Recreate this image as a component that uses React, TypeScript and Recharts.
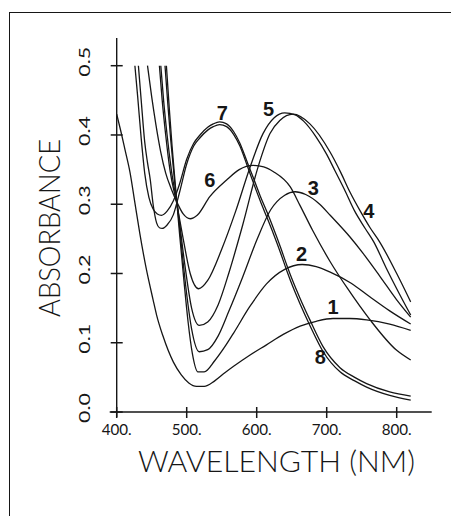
import React from 'react';
import { LineChart, Line, XAxis, YAxis, ReferenceLine, ReferenceDot } from 'recharts';

// ---- tick values / labels ----
const xTicks = [400, 500, 600, 700, 800];
const xTickLabels = ['400.', '500.', '600.', '700.', '800.'];
const yTicks = [0, 0.1, 0.2, 0.3, 0.4, 0.5];
const yTickLabels = ['0.0', '0.1', '0.2', '0.3', '0.4', '0.5'];

// ---- spectra (wavelength nm / absorbance) ----
const curve1Wl = [400, 406, 412, 419, 426, 433, 442, 452, 457, 466, 481, 492, 503, 514, 525, 540, 555, 567, 590, 614, 638, 662, 685, 709, 733, 757, 790, 820];
const curve1Abs = [0.43, 0.405, 0.378, 0.346, 0.302, 0.258, 0.208, 0.162, 0.14, 0.11, 0.072, 0.054, 0.042, 0.037, 0.037, 0.045, 0.057, 0.066, 0.082, 0.097, 0.112, 0.124, 0.131, 0.135, 0.135, 0.133, 0.127, 0.118];

const curve2Wl = [471, 475, 479, 484, 490, 496, 502, 508, 516, 525, 540, 555, 567, 590, 614, 640, 665, 685, 705, 735, 762, 790, 820];
const curve2Abs = [0.5, 0.44, 0.385, 0.325, 0.255, 0.19, 0.13, 0.085, 0.058, 0.058, 0.074, 0.095, 0.114, 0.152, 0.185, 0.206, 0.213, 0.21, 0.202, 0.186, 0.166, 0.146, 0.127];

const curve3Wl = [469, 473, 477, 483, 488, 494, 500, 507, 518, 530, 545, 560, 580, 600, 620, 640, 655, 670, 690, 705, 733, 752, 776, 800, 820];
const curve3Abs = [0.5, 0.445, 0.395, 0.33, 0.285, 0.225, 0.17, 0.12, 0.087, 0.09, 0.11, 0.145, 0.195, 0.248, 0.292, 0.313, 0.318, 0.314, 0.3, 0.284, 0.253, 0.229, 0.196, 0.162, 0.137];

const curve4Wl = [463, 467, 472, 478, 487, 497, 507, 518, 530, 545, 560, 580, 602, 619, 633, 652, 676, 705, 720, 733, 748, 762, 776, 800, 820];
const curve4Abs = [0.5, 0.45, 0.4, 0.35, 0.295, 0.215, 0.15, 0.125, 0.13, 0.155, 0.2, 0.27, 0.354, 0.402, 0.421, 0.43, 0.416, 0.375, 0.346, 0.318, 0.29, 0.266, 0.245, 0.2, 0.159];

const curve5Wl = [461, 465, 470, 476, 486, 495, 505, 517, 530, 550, 570, 590, 609, 625, 640, 655, 667, 685, 700, 712, 725, 740, 755, 767, 785, 800, 820];
const curve5Abs = [0.5, 0.45, 0.4, 0.35, 0.3, 0.25, 0.2, 0.178, 0.19, 0.235, 0.29, 0.352, 0.402, 0.425, 0.432, 0.429, 0.42, 0.397, 0.372, 0.348, 0.322, 0.29, 0.265, 0.246, 0.208, 0.178, 0.14];

const curve6Wl = [444, 450, 456, 463, 470, 478, 486, 495, 505, 515, 533, 557, 575, 595, 610, 624, 648, 662, 680, 705, 730, 762, 800, 820];
const curve6Abs = [0.5, 0.455, 0.415, 0.375, 0.345, 0.322, 0.303, 0.286, 0.279, 0.284, 0.311, 0.335, 0.35, 0.356, 0.354, 0.347, 0.325, 0.298, 0.262, 0.217, 0.178, 0.133, 0.089, 0.075];

const curve7Wl = [426, 430, 435, 440, 446, 452, 458, 464, 472, 481, 490, 500, 510, 519, 530, 538, 547, 557, 567, 576, 586, 596, 605, 615, 624, 634, 643, 652, 662, 676, 695, 719, 740, 757, 790, 820];
const curve7Abs = [0.5, 0.455, 0.395, 0.345, 0.31, 0.293, 0.286, 0.284, 0.29, 0.305, 0.33, 0.365, 0.388, 0.4, 0.411, 0.416, 0.419, 0.416, 0.405, 0.388, 0.362, 0.336, 0.312, 0.288, 0.265, 0.238, 0.212, 0.188, 0.164, 0.133, 0.094, 0.064, 0.05, 0.041, 0.029, 0.023];

const curve8Wl = [431, 435, 440, 444, 448, 452, 457, 461, 465, 472, 481, 490, 500, 510, 519, 530, 538, 547, 557, 567, 576, 586, 596, 605, 615, 624, 634, 643, 652, 662, 676, 695, 719, 740, 757, 790, 820];
const curve8Abs = [0.5, 0.45, 0.39, 0.36, 0.335, 0.3, 0.273, 0.266, 0.265, 0.27, 0.285, 0.318, 0.358, 0.384, 0.396, 0.407, 0.412, 0.415, 0.412, 0.401, 0.384, 0.357, 0.329, 0.305, 0.28, 0.257, 0.23, 0.204, 0.18, 0.156, 0.125, 0.087, 0.058, 0.045, 0.036, 0.024, 0.017];

// ---- curve number annotations ----
const curveLabelText = ['1', '2', '3', '4', '5', '6', '7', '8'];
const curveLabelWl = [709, 664, 681, 760, 617, 533, 551, 691];
const curveLabelAbs = [0.152, 0.228, 0.323, 0.29, 0.437, 0.335, 0.432, 0.079];

const toPoints = (wl: number[], abs: number[]) => wl.map((x, i) => ({ x, y: abs[i] }));

const series = [
  toPoints(curve1Wl, curve1Abs),
  toPoints(curve2Wl, curve2Abs),
  toPoints(curve3Wl, curve3Abs),
  toPoints(curve4Wl, curve4Abs),
  toPoints(curve5Wl, curve5Abs),
  toPoints(curve6Wl, curve6Abs),
  toPoints(curve7Wl, curve7Abs),
  toPoints(curve8Wl, curve8Abs),
];

const X_DOMAIN: [number, number] = [390, 850];
const Y_DOMAIN: [number, number] = [-0.0072, 0.54];

const INK = '#161616';
const FONT = 'Lato, "DejaVu Sans", sans-serif';

// x tick: cross mark on the axis line (axis line sits 5px above the plot bottom) + label
const XTick = (props: any) => {
  const { x, y, payload } = props;
  const idx = xTicks.indexOf(payload.value);
  return (
    <g>
      <line x1={x} x2={x} y1={y - 10} y2={y + 1} stroke={INK} strokeWidth={1.5} />
      <text x={x} y={y + 18} textAnchor="middle" fontFamily={FONT} fontWeight={400} fontSize={16}
        fill={INK} textLength={30} lengthAdjust="spacingAndGlyphs">
        {xTickLabels[idx]}
      </text>
    </g>
  );
};

// y tick: cross mark on the y axis line (7px right of plot left edge) + rotated label
const YTick = (props: any) => {
  const { x, y, payload } = props;
  const idx = yTicks.findIndex((t) => Math.abs(t - payload.value) < 1e-9);
  return (
    <g>
      <line x1={x + 1} x2={x + 13} y1={y} y2={y} stroke={INK} strokeWidth={1.5} />
      <text transform={`translate(${x - 20},${y - 4}) rotate(-90)`} textAnchor="middle" fontFamily={FONT}
        fontWeight={400} fontSize={16} fill={INK} textLength={30} lengthAdjust="spacingAndGlyphs">
        {yTickLabels[idx]}
      </text>
    </g>
  );
};

const XTitle = () => (
  <text x={130} y={464} fontFamily={FONT} fontWeight={300} fontSize={29} fill={INK}
    textLength={277} lengthAdjust="spacingAndGlyphs">
    WAVELENGTH (NM)
  </text>
);

const YTitle = () => (
  <text transform="translate(52,220) rotate(-90)" textAnchor="middle" fontFamily={FONT} fontWeight={300}
    fontSize={29} fill={INK} textLength={178} lengthAdjust="spacingAndGlyphs">
    ABSORBANCE
  </text>
);

export default function App() {
  return (
    <div style={{ position: 'relative', width: 451, height: 508, background: '#fff' }}>
      <div style={{ position: 'absolute', left: 1, top: 4, width: 450, height: 504,
        borderTop: `1.5px solid ${INK}`, borderLeft: `1.5px solid ${INK}`, pointerEvents: 'none' }} />
      <LineChart width={451} height={508} margin={{ top: 30, right: 27.3, bottom: 39, left: 41.7 }}>
        <XAxis type="number" dataKey="x" domain={X_DOMAIN} ticks={xTicks} allowDataOverflow
          axisLine={false} tickLine={false} tickSize={0} tickMargin={0} height={60}
          tick={<XTick />} interval={0} label={<XTitle />} />
        <YAxis type="number" dataKey="y" domain={Y_DOMAIN} ticks={yTicks} allowDataOverflow
          axisLine={false} tickLine={false} tickSize={0} tickMargin={0} width={60}
          tick={<YTick />} interval={0} label={<YTitle />} />
        <ReferenceLine y={0} stroke={INK} strokeWidth={1.4} />
        <ReferenceLine x={400} stroke={INK} strokeWidth={1.4} />
        {series.map((d, i) => (
          <Line key={i} data={d} dataKey="y" type="monotone" stroke={INK} strokeWidth={1.3}
            dot={false} activeDot={false} isAnimationActive={false} />
        ))}
        {curveLabelText.map((t, i) => (
          <ReferenceDot key={'l' + i} x={curveLabelWl[i]} y={curveLabelAbs[i]} r={0} fill="none" stroke="none"
            label={{ value: t, position: 'center', fontSize: 20, fontWeight: 600, fill: INK,
              fontFamily: '"Liberation Sans", Arial, sans-serif' }} />
        ))}
      </LineChart>
    </div>
  );
}
